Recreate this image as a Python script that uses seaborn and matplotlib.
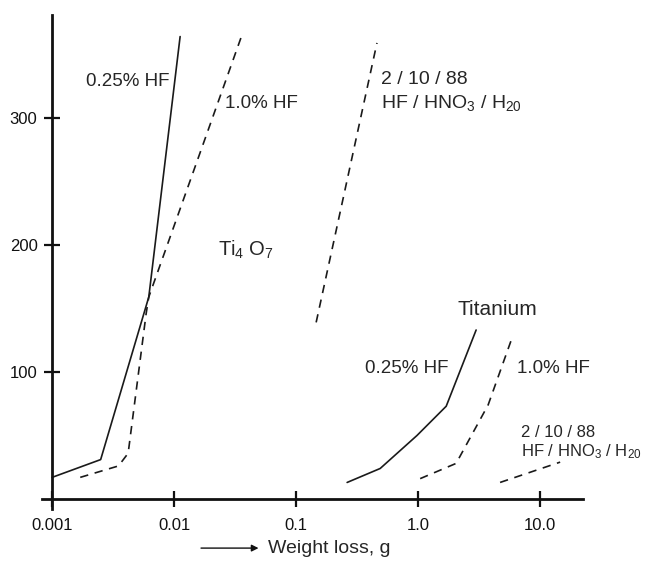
import numpy as np
import pandas as pd
import seaborn as sns
import matplotlib.pyplot as plt

# Curve data (weight loss in g, y value)

ti4o7_025_x = [0.001, 0.0025, 0.0062, 0.0112]
ti4o7_025_y = [17, 31, 159, 364]

ti4o7_10_x = [0.0017, 0.0035, 0.0042, 0.0059, 0.0062, 0.0356]
ti4o7_10_y = [17, 26, 36, 146, 159, 364]

ti4o7_mix_x = [0.146, 0.46]
ti4o7_mix_y = [139, 359]

ti_025_x = [0.262, 0.489, 0.98, 1.70, 2.99]
ti_025_y = [13, 24, 50, 73, 133]

ti_10_x = [1.04, 2.05, 3.75, 5.9]
ti_10_y = [16, 28, 74, 127]

ti_mix_x = [4.7, 14.6]
ti_mix_y = [13, 29]

x_ticks = [0.001, 0.01, 0.1, 1.0, 10.0]
x_tick_labels = ["0.001", "0.01", "0.1", "1.0", "10.0"]
y_ticks = [100, 200, 300]

sns.set_style("ticks")
plt.rcParams["font.family"] = ["Liberation Sans", "DejaVu Sans"]
plt.rcParams["mathtext.fontset"] = "custom"
plt.rcParams["mathtext.rm"] = "Liberation Sans"
plt.rcParams["mathtext.it"] = "Liberation Sans"

fig = plt.figure(figsize=(6.5, 5.61), dpi=100)
ax = fig.add_axes([0.065, 0.0927, 0.832, 0.8806])

series = [
    (ti4o7_025_x, ti4o7_025_y, "-"),
    (ti4o7_10_x, ti4o7_10_y, "--"),
    (ti4o7_mix_x, ti4o7_mix_y, "--"),
    (ti_025_x, ti_025_y, "-"),
    (ti_10_x, ti_10_y, "--"),
    (ti_mix_x, ti_mix_y, "--"),
]

for xs, ys, ls in series:
    d = pd.DataFrame({"x": xs, "y": ys})
    sns.lineplot(data=d, x="x", y="y", color="#1a1a1a", linewidth=1.2,
                 sort=False, estimator=None, ax=ax)
    if ls == "--":
        ax.lines[-1].set_dashes((5, 4))

ax.set_xscale("log")
ax.set_xlim(0.00083, 22.5)
ax.set_ylim(-7.9, 381)

ax.spines["left"].set_position(("data", 0.001))
ax.spines["bottom"].set_position(("data", 0))
ax.spines["top"].set_visible(False)
ax.spines["right"].set_visible(False)
for s in ["left", "bottom"]:
    ax.spines[s].set_linewidth(2)
    ax.spines[s].set_color("#111111")

ax.set_xticks(x_ticks)
ax.set_xticklabels(x_tick_labels)
ax.xaxis.set_minor_locator(plt.NullLocator())
ax.set_yticks(y_ticks)
ax.tick_params(direction="inout", length=11, width=1.6, labelsize=12,
               colors="#111111", pad=5)
ax.tick_params(axis="x", pad=8)
ax.set_xlabel("")
ax.set_ylabel("")

fs = 13.5
ax.text(0.0019, 329, "0.25% HF", fontsize=fs, va="center")
ax.text(0.0262, 311, "1.0% HF", fontsize=fs, va="center")
ax.text(0.023, 196, r"$\mathregular{Ti_4\ O_7}$", fontsize=fs + 1, va="center")
ax.text(0.5, 330, "2 / 10 / 88", fontsize=14, va="center")
ax.text(0.5, 312, r"HF / HNO$\mathregular{_3}$ / H$\mathregular{_{20}}$",
        fontsize=14, va="center")
ax.text(4.45, 149, "Titanium", fontsize=15, va="center", ha="center")
ax.text(0.368, 103, "0.25% HF", fontsize=fs, va="center")
ax.text(6.5, 103, "1.0% HF", fontsize=fs, va="center")
ax.text(7.0, 52, "2 / 10 / 88", fontsize=12, va="center")
ax.text(7.0, 37, r"HF / HNO$\mathregular{_3}$ / H$\mathregular{_{20}}$",
        fontsize=12, va="center")

# x label with arrow
fig.text(0.412, 0.023, "Weight loss, g", fontsize=14, va="center")
ax.annotate("", xy=(0.402, 0.023), xytext=(0.305, 0.023),
            xycoords="figure fraction", textcoords="figure fraction",
            arrowprops=dict(arrowstyle="-|>", color="#111111", lw=1,
                            mutation_scale=10))

plt.savefig("out.png", dpi=100)
